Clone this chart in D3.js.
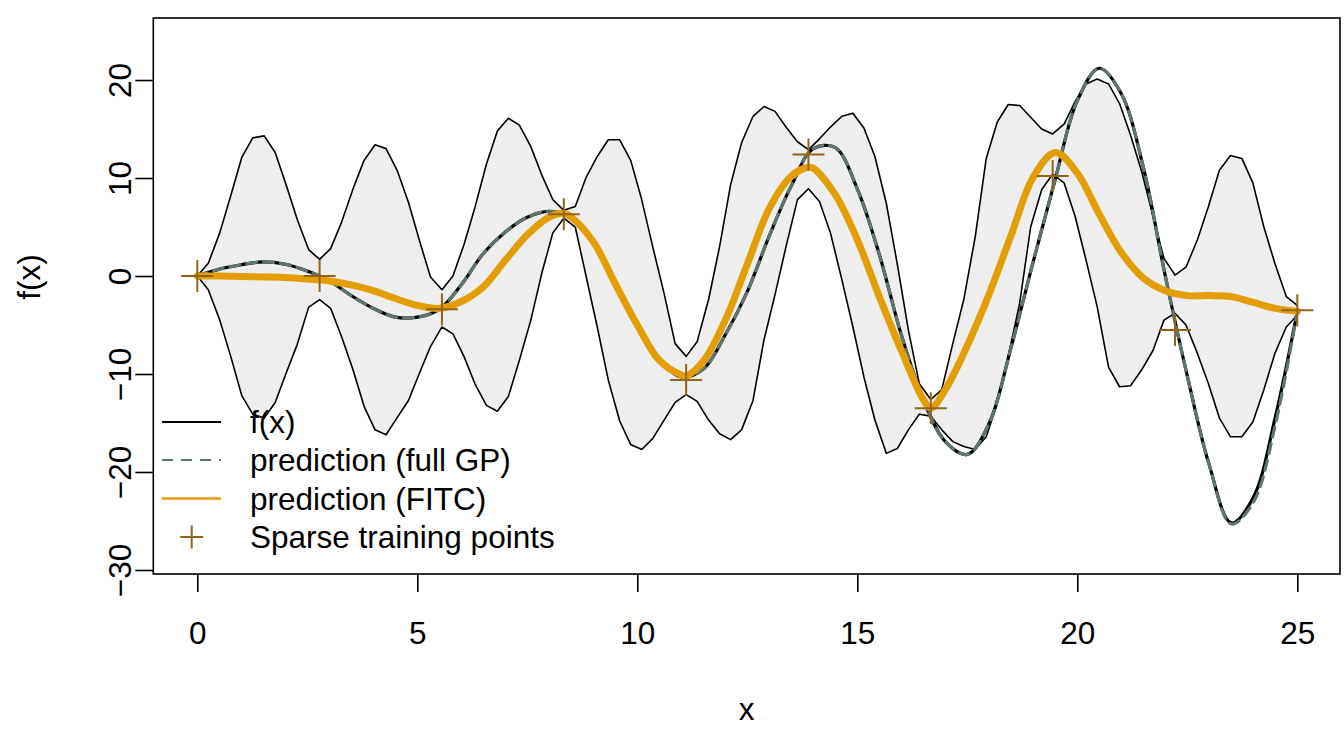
<!DOCTYPE html>
<html>
<head>
<meta charset="utf-8">
<script src="https://cdn.jsdelivr.net/npm/d3@7"></script>
<style>
  body { margin: 0; background: #fff; }
  svg { display: block; }
  text { font-family: "Liberation Sans", Arial, Helvetica, sans-serif; fill: #000; }
</style>
</head>
<body>
<svg id="chart" width="1344" height="729"></svg>
<script>
// sample grid of the prediction band (100 points from 0 to 25)
const gridX = [0, 0.25, 0.51, 0.76, 1.01, 1.26, 1.52, 1.77, 2.02, 2.27, 2.53, 2.78, 3.03, 3.28, 3.54, 3.79, 4.04, 4.29, 4.55, 4.80,
  5.05, 5.30, 5.56, 5.81, 6.06, 6.31, 6.57, 6.82, 7.07, 7.32, 7.58, 7.83, 8.08, 8.33, 8.59, 8.84, 9.09, 9.34, 9.60, 9.85,
  10.10, 10.35, 10.61, 10.86, 11.11, 11.36, 11.62, 11.87, 12.12, 12.37, 12.63, 12.88, 13.13, 13.38, 13.64, 13.89, 14.14, 14.39, 14.65, 14.90,
  15.15, 15.40, 15.66, 15.91, 16.16, 16.41, 16.67, 16.92, 17.17, 17.42, 17.68, 17.93, 18.18, 18.43, 18.69, 18.94, 19.19, 19.44, 19.70, 19.95,
  20.20, 20.45, 20.71, 20.96, 21.21, 21.46, 21.72, 21.97, 22.22, 22.47, 22.73, 22.98, 23.23, 23.48, 23.74, 23.99, 24.24, 24.49, 24.75, 25.00];

const bandUpper = [0, 1.3, 4.4, 8.2, 12.1, 14.1, 14.3, 12.6, 9.3, 5.8, 2.7, 1.7,
  2.8, 5.5, 8.9, 11.8, 13.4, 13.0, 10.7, 7.5, 3.6, -0.1, -1.4,
  0.0, 3.2, 7.0, 11.4, 14.8, 16.1, 15.4, 13.2, 10.3, 7.8, 6.7,
  7.1, 10.1, 12.2, 13.9, 13.9, 11.8, 7.8, 3.0, -1.8, -6.9, -8.2,
  -6.7, -2.4, 3.0, 9.3, 13.6, 16.3, 17.3, 16.8, 15.2, 13.7, 12.9,
  14.0, 15.2, 16.3, 16.6, 15.1, 12.2, 7.4, 1.2, -5.5, -11.0, -12.6,
  -11.6, -6.9, -2.4, 4.0, 12.0, 15.7, 17.5, 17.4, 16.2, 15.0, 14.5,
  15.5, 17.8, 19.6, 20.1, 19.6, 17.6, 14.4, 10.7, 6.1, 1.8, 0.1,
  0.9, 3.7, 7.1, 10.8, 12.3, 12.0, 9.5, 5.0, 1.3, -2.1, -3.0];

const bandLower = [0, -1.4, -4.5, -8.2, -12.2, -14.1, -14.5, -12.9, -9.9, -7.0, -3.2, -2.4,
  -3.3, -6.2, -9.6, -13.3, -15.7, -16.2, -14.4, -12.7, -9.9, -7.2, -5.2,
  -5.9, -8.2, -11.0, -13.2, -13.8, -12.3, -8.6, -4.5, 0.3, 4.4, 5.9,
  5.0, -0.1, -5.2, -10.6, -14.8, -17.2, -17.7, -16.6, -14.7, -12.9, -12.1,
  -12.8, -14.7, -16.1, -16.7, -15.7, -12.7, -6.5, -1.9, 3.0, 7.8, 8.9,
  7.6, 4.4, -0.4, -5.2, -10.3, -14.7, -18.1, -17.6, -15.7, -14.1, -14.3,
  -15.7, -16.9, -17.4, -17.7, -16.4, -13.0, -8.2, -2.8, 5.0, 8.8, 10.4,
  9.5, 6.1, 1.6, -3.1, -9.3, -11.3, -11.2, -9.6, -7.6, -4.5, -3.8,
  -5.0, -7.9, -11.0, -14.5, -16.4, -16.4, -14.9, -11.6, -7.9, -5.2, -4.0];

// true function and full GP prediction, every 0.5
const curveX = [0, 0.5, 1, 1.5, 2, 2.5, 3, 3.5, 4, 4.5, 5, 5.5, 6, 6.5, 7, 7.5, 8, 8.5, 9, 9.5,
  10, 10.5, 11, 11.5, 12, 12.5, 13, 13.5, 14, 14.5, 15, 15.5, 16, 16.5, 17, 17.5, 18, 18.5, 19, 19.5,
  20, 20.5, 21, 21.5, 22, 22.5, 23, 23.5, 24, 24.5, 25];

const fValues = [0, 0.7, 1.15, 1.45, 1.2, 0.5, -0.5, -2.0, -3.3, -4.2, -4.2, -3.4, -0.9, 2.3, 4.5, 6.0, 6.6, 5.9, 3.6, -0.7,
  -5.0, -8.5, -10.3, -9.5, -6.0, -1.6, 4.1, 9.2, 13.0, 13.1, 8.9, 2.2, -6.0, -12.6, -16.9, -18.2, -15.0, -7.2, 1.5, 9.9,
  17.9, 21.2, 18.6, 11.1, 0.0, -10.2, -19.3, -25.2, -22.6, -14.4, -3.6];

const gpValues = [0, 0.7, 1.15, 1.45, 1.2, 0.5, -0.5, -2.0, -3.3, -4.2, -4.2, -3.4, -0.9, 2.3, 4.5, 6.0, 6.6, 5.9, 3.6, -0.7,
  -5.0, -8.5, -10.3, -9.5, -6.0, -1.6, 4.1, 9.2, 13.0, 13.1, 8.9, 2.2, -6.0, -12.6, -16.9, -18.2, -15.0, -7.2, 1.5, 9.9,
  17.9, 21.2, 18.6, 11.1, 0.0, -10.2, -19.3, -25.3, -23.1, -15.2, -3.6];

// FITC prediction (orange)
const fitcX = [0, 0.5, 1, 1.5, 2, 2.5, 3, 3.5, 4, 4.5, 5, 5.5, 6, 6.5, 7, 7.5, 8, 8.33, 8.5, 9, 9.5,
  10, 10.5, 11, 11.11, 11.5, 12, 12.5, 13, 13.5, 13.89, 14, 14.5, 15, 15.5, 16, 16.5, 16.67, 17, 17.5,
  18, 18.5, 19, 19.5, 20, 20.5, 21, 21.5, 22, 22.5, 23, 23.5, 24, 24.5, 25];
const fitcY = [0, 0, -0.05, -0.1, -0.15, -0.3, -0.5, -0.9, -1.5, -2.3, -3.0, -3.3, -2.6, -1.1, 1.6, 4.2, 6.0, 6.4, 6.0, 3.5, -0.8,
  -5.0, -8.6, -10.1, -10.2, -8.7, -4.5, 1.2, 6.9, 10.2, 11.1, 11.0, 8.3, 3.7, -2.1, -7.6, -12.6, -13.5, -11.6, -7.1,
  -1.8, 4.2, 10.1, 12.6, 10.5, 6.3, 2.4, -0.2, -1.5, -2.0, -2.0, -2.1, -2.7, -3.3, -3.6];

// sparse training points
const tpX = [0, 2.78, 5.56, 8.33, 11.11, 13.89, 16.67, 19.44, 22.22, 25];
const tpY = [0, 0.0, -3.4, 6.3, -10.6, 12.4, -13.5, 10.2, -5.5, -3.5];

const xTicks = [0, 5, 10, 15, 20, 25];
const yTicks = [-30, -20, -10, 0, 10, 20];
const legendLabels = ['f(x)', 'prediction (full GP)', 'prediction (FITC)', 'Sparse training points'];

const colGP = '#5e7670';
const colFITC = '#e39e06';
const colPts = '#93631a';
const fontSize = 31.5;

const svg = d3.select('#chart');
const plotL = 153.3, plotR = 1340, plotT = 18, plotB = 574;

const x = d3.scaleLinear().domain([-1, 26]).range([153.3, 1341.3]);
const y = d3.scaleLinear().domain([-30.41, 26.33]).range([plotB, plotT]);

svg.append('clipPath').attr('id', 'clip')
  .append('rect').attr('x', plotL).attr('y', plotT).attr('width', plotR - plotL).attr('height', plotB - plotT);

const plot = svg.append('g').attr('clip-path', 'url(#clip)');

// band
const band = d3.area()
  .x((d, i) => x(gridX[i]))
  .y0((d, i) => y(bandLower[i]))
  .y1((d, i) => y(bandUpper[i]));
plot.append('path').datum(gridX).attr('d', band).attr('fill', '#eeeeee');

const bandLine = arr => d3.line().x((d, i) => x(gridX[i])).y((d, i) => y(arr[i]));
[bandUpper, bandLower].forEach(arr => {
  plot.append('path').datum(gridX).attr('d', bandLine(arr))
    .attr('fill', 'none').attr('stroke', '#000').attr('stroke-width', 1.6)
    .attr('stroke-linejoin', 'round');
});

const smooth = (xs, ys) => d3.line()
  .curve(d3.curveCatmullRom.alpha(0.5))
  .x((d, i) => x(xs[i]))
  .y((d, i) => y(ys[i]));

// true function
plot.append('path').datum(curveX).attr('d', smooth(curveX, fValues))
  .attr('fill', 'none').attr('stroke', '#000').attr('stroke-width', 3.2);

// full GP, dashed
plot.append('path').datum(curveX).attr('d', smooth(curveX, gpValues))
  .attr('fill', 'none').attr('stroke', colGP).attr('stroke-width', 3.2)
  .attr('stroke-dasharray', '10,7').attr('stroke-linecap', 'round');

// FITC
plot.append('path').datum(fitcX).attr('d', smooth(fitcX, fitcY))
  .attr('fill', 'none').attr('stroke', colFITC).attr('stroke-width', 7)
  .attr('stroke-linecap', 'round').attr('stroke-linejoin', 'round');

// training points as plus signs
const plus = (g, cx, cy, h) => {
  g.append('line').attr('x1', cx - h).attr('x2', cx + h).attr('y1', cy).attr('y2', cy);
  g.append('line').attr('x1', cx).attr('x2', cx).attr('y1', cy - h).attr('y2', cy + h);
};
const pts = svg.append('g').attr('stroke', colPts).attr('stroke-width', 2);
tpX.forEach((v, i) => plus(pts, x(v), y(tpY[i]), 16));

// box
svg.append('rect').attr('x', plotL).attr('y', plotT).attr('width', plotR - plotL).attr('height', plotB - plotT)
  .attr('fill', 'none').attr('stroke', '#000').attr('stroke-width', 1.6);

// axes
const xAxis = svg.append('g').attr('transform', `translate(0,${plotB})`)
  .call(d3.axisBottom(x).tickValues(xTicks).tickSize(18).tickSizeOuter(0).tickPadding(30));
const yAxis = svg.append('g').attr('transform', `translate(${plotL},0)`)
  .call(d3.axisLeft(y).tickValues(yTicks).tickSize(18).tickSizeOuter(0));

[xAxis, yAxis].forEach(a => {
  a.select('.domain').remove();
  a.selectAll('line').attr('stroke', '#000').attr('stroke-width', 1.6);
  a.selectAll('text').attr('font-size', fontSize).attr('fill', '#000')
    .style('font-family', '"Liberation Sans", Arial, sans-serif');
});
yAxis.selectAll('text')
  .attr('transform', 'rotate(-90)')
  .attr('x', 0).attr('y', -22).attr('dy', 0)
  .attr('text-anchor', 'middle');

svg.append('text').attr('x', (plotL + plotR) / 2).attr('y', 720)
  .attr('text-anchor', 'middle').attr('font-size', fontSize).text('x');
svg.append('text').attr('transform', 'translate(40,277) rotate(-90)')
  .attr('text-anchor', 'middle').attr('font-size', fontSize).text('f(x)');

// legend
const legY = [422, 460, 498.5, 537];
const leg = svg.append('g');
leg.append('line').attr('x1', 162).attr('x2', 221).attr('y1', legY[0]).attr('y2', legY[0])
  .attr('stroke', '#000').attr('stroke-width', 2);
leg.append('line').attr('x1', 162).attr('x2', 221).attr('y1', legY[1]).attr('y2', legY[1])
  .attr('stroke', colGP).attr('stroke-width', 2).attr('stroke-dasharray', '11,8');
leg.append('line').attr('x1', 162).attr('x2', 221).attr('y1', legY[2]).attr('y2', legY[2])
  .attr('stroke', colFITC).attr('stroke-width', 2.5);
const legPts = leg.append('g').attr('stroke', colPts).attr('stroke-width', 2);
plus(legPts, 191.7, legY[3], 11.5);

leg.selectAll('text.lab').data(legendLabels).enter().append('text')
  .attr('class', 'lab')
  .attr('x', 250).attr('y', (d, i) => legY[i] + 11)
  .attr('font-size', fontSize)
  .text(d => d);
</script>
</body>
</html>
